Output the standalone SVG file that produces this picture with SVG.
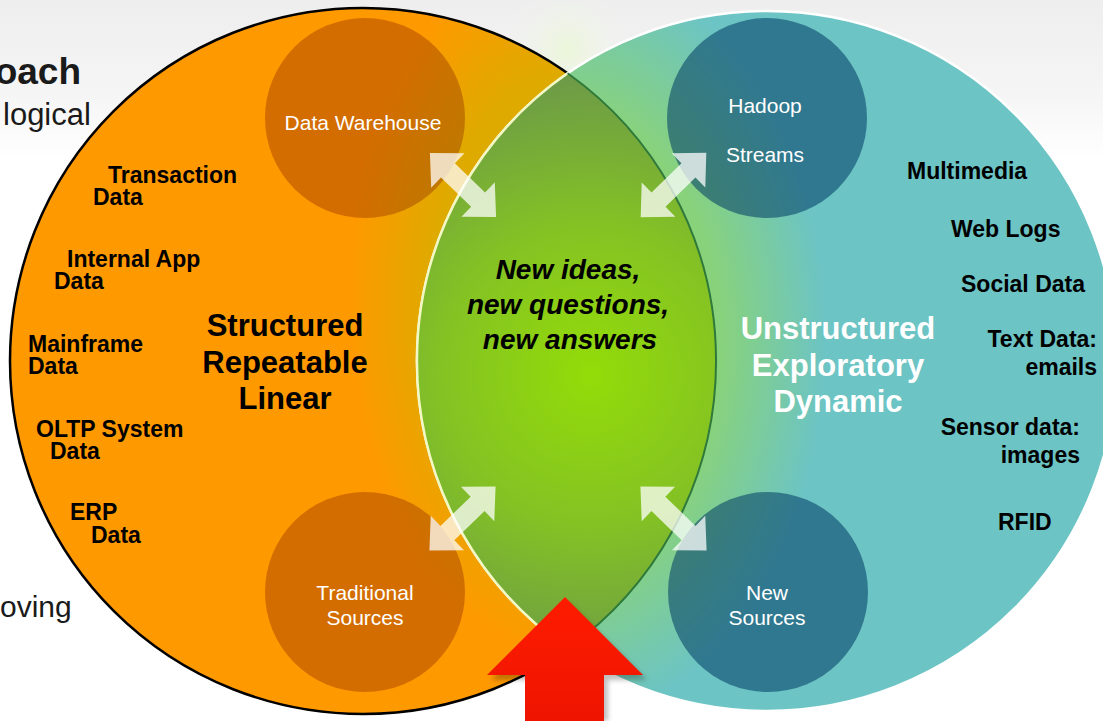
<svg xmlns="http://www.w3.org/2000/svg" width="1103" height="721" viewBox="0 0 1103 721">
<defs>
<linearGradient id="bg" x1="0" y1="0" x2="0" y2="721" gradientUnits="userSpaceOnUse">
<stop offset="0" stop-color="#EEEEEE"/><stop offset="0.13" stop-color="#F5F5F5"/><stop offset="0.22" stop-color="#FFFFFF"/>
</linearGradient>
<radialGradient id="glow" cx="567" cy="50" r="70" gradientUnits="userSpaceOnUse">
<stop offset="0" stop-color="#EAF6D8" stop-opacity="1"/><stop offset="1" stop-color="#F2F2F2" stop-opacity="0"/>
</radialGradient>
<radialGradient id="orangeG" cx="0" cy="0" r="1" gradientUnits="userSpaceOnUse" gradientTransform="translate(575 300) scale(240 380)">
<stop offset="0.6" stop-color="#DFAA00"/><stop offset="0.95" stop-color="#FF9900"/>
</radialGradient>
<radialGradient id="tealG" cx="0" cy="0" r="1" gradientUnits="userSpaceOnUse" gradientTransform="translate(565 340) scale(260 380)">
<stop offset="0.6" stop-color="#88D27C"/><stop offset="1" stop-color="#6CC4C4"/>
</radialGradient>
<radialGradient id="lensG" cx="590" cy="375" r="300" gradientUnits="userSpaceOnUse">
<stop offset="0" stop-color="#94DC08"/><stop offset="0.5" stop-color="#84C224"/><stop offset="1" stop-color="#6C9A48"/>
</radialGradient>
<linearGradient id="redG" x1="0" y1="597" x2="0" y2="721" gradientUnits="userSpaceOnUse">
<stop offset="0" stop-color="#FF1C00"/><stop offset="1" stop-color="#EE1400"/>
</linearGradient>
<filter id="sh" x="-20%" y="-20%" width="140%" height="140%"><feGaussianBlur stdDeviation="2.5"/></filter>
<path id="dbl" d="M -46 0 L -21 -24 L -21 -10 L 21 -10 L 21 -24 L 46 0 L 21 24 L 21 10 L -21 10 L -21 24 Z"/>
</defs>
<style>
.t{font-family:"Liberation Sans",Arial,Helvetica,sans-serif}
.lab{font-weight:bold;font-size:23px;fill:#000}
.big{font-weight:bold;font-size:31px;text-anchor:middle}
.ctr{font-weight:bold;font-style:italic;font-size:28px;text-anchor:middle;fill:#000}
.wt{font-size:21px;fill:#FFFFFF;text-anchor:middle}
.side{fill:#1A1A1A}
.dk-o{fill:#821E00;fill-opacity:0.35}
.dk-t{fill:#003A65;fill-opacity:0.55}
.arr{fill:#FFFFFF;fill-opacity:0.74}
</style>

<rect x="0" y="0" width="1103" height="721" fill="url(#bg)"/>
<ellipse cx="567" cy="50" rx="70" ry="55" fill="url(#glow)"/>

<g id="side-text" class="t side">
<text x="81" y="84" font-size="37" font-weight="bold" text-anchor="end">oach</text>
<text x="3" y="125" font-size="31">logical</text>
<text x="0" y="617" font-size="30">oving</text>
</g>

<g id="left-circle">
<circle cx="363" cy="361" r="353" fill="url(#orangeG)" stroke="#000" stroke-width="2.5"/>
</g>
<g id="right-circle">
<circle cx="767" cy="361" r="350" fill="url(#tealG)" stroke="#FFFFFF" stroke-width="2.5"/>
</g>
<g id="overlap">
<path d="M 567.6 73.3 A 353 353 0 0 1 567.6 648.7 A 350 350 0 0 1 567.6 73.3 Z" fill="url(#lensG)"/>
<path d="M 567.6 648.7 A 350 350 0 0 1 567.6 73.3" fill="none" stroke="#F2F8C4" stroke-width="2.5"/>
<path d="M 567.6 73.3 A 353 353 0 0 1 567.6 648.7" fill="none" stroke="#2F7A3A" stroke-width="2"/>
</g>

<g id="data-warehouse">
<circle class="dk-o" cx="365" cy="118" r="100"/>
<text class="t wt" x="363" y="130">Data Warehouse</text>
</g>
<g id="traditional-sources">
<circle class="dk-o" cx="365" cy="592" r="100"/>
<text class="t wt" x="365" y="600">Traditional<tspan x="365" y="625">Sources</tspan></text>
</g>
<g id="hadoop-streams">
<circle class="dk-t" cx="767" cy="118" r="100"/>
<text class="t wt" x="765" y="113">Hadoop</text>
<text class="t wt" x="765" y="162">Streams</text>
</g>
<g id="new-sources">
<circle class="dk-t" cx="768" cy="592" r="100"/>
<text class="t wt" x="767" y="600">New<tspan x="767" y="625">Sources</tspan></text>
</g>

<g id="connectors">
<use href="#dbl" class="arr" transform="translate(463 185) rotate(44)"/>
<use href="#dbl" class="arr" transform="translate(673.5 185) rotate(-44.5)"/>
<use href="#dbl" class="arr" transform="translate(462.5 518.5) rotate(-44)"/>
<use href="#dbl" class="arr" transform="translate(673.5 518.5) rotate(44)"/>
</g>

<g id="left-labels" class="t lab">
<text x="108" y="183">Transaction<tspan x="93" y="205">Data</tspan></text>
<text x="67" y="267">Internal App<tspan x="54" y="289">Data</tspan></text>
<text x="28" y="352">Mainframe<tspan x="28" y="374">Data</tspan></text>
<text x="36" y="437">OLTP System<tspan x="50" y="459">Data</tspan></text>
<text x="70" y="520">ERP<tspan x="91" y="543">Data</tspan></text>
</g>

<g id="left-title" class="t big" fill="#000">
<text x="285" y="336">Structured<tspan x="285" y="373">Repeatable</tspan><tspan x="285" y="409">Linear</tspan></text>
</g>

<g id="center-title" class="t ctr">
<text x="568" y="279">New ideas,<tspan x="568" y="314">new questions,</tspan><tspan x="570" y="349">new answers</tspan></text>
</g>

<g id="right-title" class="t big" fill="#FFFFFF">
<text x="838" y="339">Unstructured<tspan x="838" y="376">Exploratory</tspan><tspan x="838" y="412">Dynamic</tspan></text>
</g>

<g id="right-labels" class="t lab">
<text x="907" y="179">Multimedia</text>
<text x="951" y="237">Web Logs</text>
<text x="961" y="292">Social Data</text>
<text x="1097" y="347" text-anchor="end">Text Data:<tspan x="1097" y="375">emails</tspan></text>
<text x="1080" y="435" text-anchor="end">Sensor data:<tspan x="1080" y="463">images</tspan></text>
<text x="998" y="530">RFID</text>
</g>

<g id="red-arrow">
<polygon points="568,602 647,680 608,680 608,721 529,721 529,680 491,680" fill="#000" fill-opacity="0.25" filter="url(#sh)"/>
<polygon points="565,597 643,675 604,675 604,721 525,721 525,675 487,675" fill="url(#redG)"/>
</g>
</svg>
